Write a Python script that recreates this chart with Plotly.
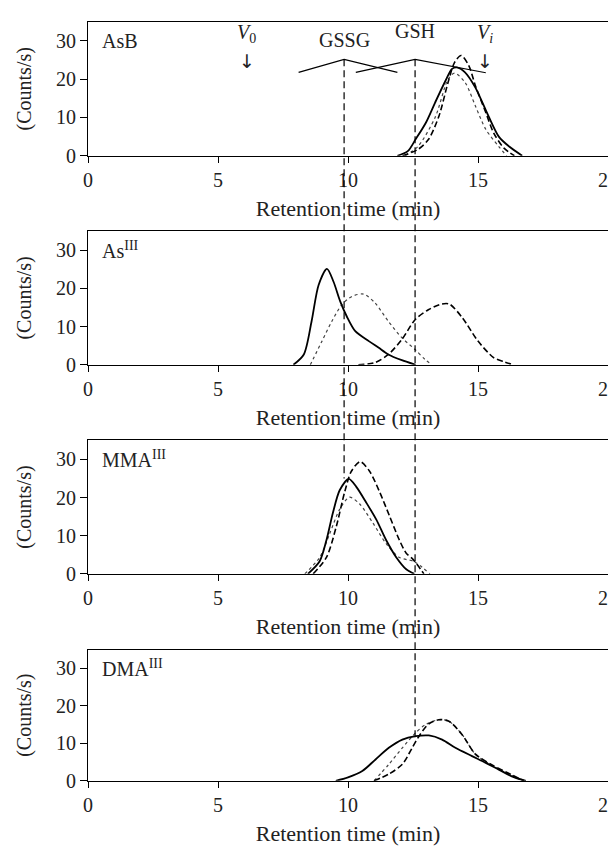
import plotly.graph_objects as go

W, H = 616, 847
FONT = "Liberation Serif"

# ---------------- data ----------------
panel_labels = ["AsB", "As<sup>III</sup>", "MMA<sup>III</sup>", "DMA<sup>III</sup>"]

asb_solid_x = [11.9, 12.3, 12.6, 13.0, 13.35, 13.75, 14.0, 14.18, 14.5, 14.9, 15.4, 15.8, 16.2, 16.7]
asb_solid_y = [0, 1.2, 4.3, 8.7, 13.9, 19.6, 22.7, 23.1, 21.8, 17.8, 10.4, 5.0, 2.4, 0]
asb_dashed_x = [12.1, 12.7, 13.1, 13.5, 13.85, 14.1, 14.35, 14.65, 14.9, 15.3, 15.6, 16.0, 16.4]
asb_dashed_y = [0, 1.7, 4.3, 10.4, 19.2, 24.4, 26.2, 23.5, 18.3, 11.3, 6.0, 2.0, 0]
asb_dotted_x = [12.2, 12.7, 13.35, 13.85, 14.1, 14.5, 14.9, 15.3, 15.8, 16.1]
asb_dotted_y = [0, 2.5, 10.0, 20.0, 21.6, 19.2, 13.0, 6.9, 2.4, 0]

as3_solid_x = [7.9, 8.3, 8.6, 8.87, 9.19, 9.44, 9.7, 9.95, 10.28, 10.8, 11.17, 11.55, 12.07, 12.6]
as3_solid_y = [0, 2.7, 11.4, 20.9, 25.1, 21.8, 16.6, 12.7, 8.8, 6.2, 4.5, 2.7, 1.2, 0]
as3_dashed_x = [10.4, 11.04, 11.55, 12.07, 12.58, 13.09, 13.6, 13.9, 14.4, 15.0, 15.6, 16.0, 16.36]
as3_dashed_y = [0, 0.6, 2.7, 6.6, 11.8, 14.4, 15.9, 15.9, 12.3, 6.2, 1.9, 0.8, 0]
as3_dotted_x = [8.55, 9.0, 9.38, 9.76, 10.15, 10.6, 11.04, 11.55, 12.07, 12.58, 12.96, 13.22]
as3_dotted_y = [0, 6.2, 11.4, 15.7, 17.9, 18.5, 16.2, 11.4, 7.1, 4.0, 1.4, 0]

mma_solid_x = [8.46, 8.91, 9.17, 9.42, 9.68, 10.03, 10.32, 10.7, 11.09, 11.47, 11.86, 12.24, 12.55]
mma_solid_y = [0, 3.3, 8.8, 16.0, 21.9, 24.9, 22.8, 18.7, 14.2, 8.8, 4.3, 1.2, 0]
mma_dashed_x = [8.66, 9.17, 9.55, 9.87, 10.13, 10.47, 10.83, 11.22, 11.6, 11.98, 12.24, 12.5, 12.92]
mma_dashed_y = [0, 4.3, 12.4, 21.4, 26.9, 29.4, 26.9, 21.4, 15.1, 8.8, 5.4, 3.8, 0]
mma_dotted_x = [8.34, 8.91, 9.3, 9.68, 10.06, 10.45, 10.96, 11.47, 11.98, 12.55, 13.15]
mma_dotted_y = [0, 4.3, 10.6, 16.9, 20.1, 18.3, 13.3, 7.9, 4.3, 3.2, 0]

dma_solid_x = [9.53, 10.0, 10.55, 11.06, 11.57, 12.09, 12.6, 13.11, 13.62, 14.13, 14.77, 15.3, 15.8, 16.3, 16.84]
dma_solid_y = [0, 0.9, 2.6, 5.7, 8.8, 11.0, 11.9, 12.1, 11.0, 8.8, 6.6, 4.8, 3.0, 1.2, 0]
dma_dashed_x = [11.0, 11.57, 12.09, 12.47, 12.73, 13.11, 13.49, 13.88, 14.39, 14.9, 15.56, 16.3, 16.76]
dma_dashed_y = [0, 1.8, 4.4, 8.8, 11.9, 15.2, 16.3, 15.9, 12.3, 7.1, 4.2, 1.6, 0]
dma_dotted_x = [11.0, 11.57, 12.09, 12.6, 12.98, 13.49, 13.88, 14.39, 14.9, 15.56, 16.3, 16.7]
dma_dotted_y = [0, 4.4, 8.8, 12.8, 15.0, 16.3, 15.9, 12.3, 7.1, 4.0, 1.4, 0]

# marker positions (retention times, min)
gssg_time = 9.85
gsh_time = 12.58
v0_time = 6.1
vi_time = 15.27
gssg_bracket_x = [8.1, 9.85, 11.9]
gssg_bracket_y = [21.8, 25.2, 21.8]
gsh_bracket_x = [10.3, 12.58, 15.3]
gsh_bracket_y = [21.8, 25.2, 21.7]
gssg_line_end = 25.0   # counts level in MMA panel where GSSG line stops
gsh_line_end = 11.0    # counts level in DMA panel where GSH line stops

x_ticks = [0, 5, 10, 15, 20]
y_ticks = [0, 10, 20, 30]
y_max = 35

panels = [
    (asb_solid_x, asb_solid_y, asb_dashed_x, asb_dashed_y, asb_dotted_x, asb_dotted_y),
    (as3_solid_x, as3_solid_y, as3_dashed_x, as3_dashed_y, as3_dotted_x, as3_dotted_y),
    (mma_solid_x, mma_solid_y, mma_dashed_x, mma_dashed_y, mma_dotted_x, mma_dotted_y),
    (dma_solid_x, dma_solid_y, dma_dashed_x, dma_dashed_y, dma_dotted_x, dma_dotted_y),
]

# ---------------- layout geometry (pixels) ----------------
tops_px = [14, 226, 438, 650]
bottoms_px = [149.7, 361.5, 573.3, 783]
domains = [[1 - b / H, 1 - t / H] for t, b in zip(tops_px, bottoms_px)]

def to_paper(panel, v):
    d0, d1 = domains[panel]
    return d0 + v / y_max * (d1 - d0)

fig = go.Figure()

for i, (sx, sy, dx, dy, ox, oy) in enumerate(panels):
    xa = "x" if i == 0 else f"x{i+1}"
    ya = "y" if i == 0 else f"y{i+1}"
    fig.add_trace(go.Scatter(x=ox, y=oy, mode="lines", xaxis=xa, yaxis=ya,
                             line=dict(color="#444444", width=1.2, dash="dot", shape="spline", smoothing=0.8),
                             showlegend=False, hoverinfo="skip"))
    fig.add_trace(go.Scatter(x=dx, y=dy, mode="lines", xaxis=xa, yaxis=ya,
                             line=dict(color="black", width=1.6, dash="6px,3px", shape="spline", smoothing=0.8),
                             showlegend=False, hoverinfo="skip"))
    fig.add_trace(go.Scatter(x=sx, y=sy, mode="lines", xaxis=xa, yaxis=ya,
                             line=dict(color="black", width=1.8, shape="spline", smoothing=0.8),
                             showlegend=False, hoverinfo="skip"))

# brackets in top panel
for bx, by in [(gssg_bracket_x, gssg_bracket_y), (gsh_bracket_x, gsh_bracket_y)]:
    fig.add_trace(go.Scatter(x=bx, y=by, mode="lines", xaxis="x", yaxis="y",
                             line=dict(color="black", width=1.2),
                             showlegend=False, hoverinfo="skip"))

TXT = "#222222"
tick_font = dict(family=FONT, size=20, color=TXT)
xtitle_font = dict(family=FONT, size=22, color=TXT)
ytitle_font = dict(family=FONT, size=20, color=TXT)
layout = dict(
    width=W, height=H,
    margin=dict(l=80, r=16, t=0, b=0),
    paper_bgcolor="white", plot_bgcolor="white",
    font=dict(family=FONT, size=20, color=TXT),
    showlegend=False,
)
for i in range(4):
    xk = "xaxis" if i == 0 else f"xaxis{i+1}"
    yk = "yaxis" if i == 0 else f"yaxis{i+1}"
    ya = "y" if i == 0 else f"y{i+1}"
    xa = "x" if i == 0 else f"x{i+1}"
    layout[xk] = dict(
        domain=[0, 1], anchor=ya, range=[0, 20], tickvals=x_ticks,
        ticks="outside", ticklen=6, tickwidth=1, tickcolor="black",
        showline=True, linecolor="black", linewidth=1.2, mirror=True,
        showgrid=False, zeroline=False, tickfont=tick_font,
        title=dict(text="Retention time (min)", font=xtitle_font, standoff=10),
    )
    layout[yk] = dict(
        domain=domains[i], anchor=xa, range=[0, y_max], tickvals=y_ticks,
        ticks="outside", ticklen=7, tickwidth=1, tickcolor="black",
        showline=True, linecolor="black", linewidth=1.2, mirror=True,
        showgrid=False, zeroline=False, tickfont=tick_font,
        title=dict(text="(Counts/s)", font=ytitle_font, standoff=18),
    )
fig.update_layout(**layout)

# panel labels
for i, lab in enumerate(panel_labels):
    xa = "x" if i == 0 else f"x{i+1}"
    ya = "y" if i == 0 else f"y{i+1}"
    fig.add_annotation(x=0.45, y=30, xref=xa, yref=ya, text=lab, showarrow=False,
                       xanchor="left", yanchor="middle", font=dict(family=FONT, size=20, color=TXT))

# top panel annotations
fig.add_annotation(x=v0_time, y=32.0, xref="x", yref="y", text="<i>V</i><sub>0</sub>", showarrow=False,
                   font=dict(family=FONT, size=20, color=TXT))
fig.add_annotation(x=v0_time, y=24.8, xref="x", yref="y", text="↓", showarrow=False,
                   font=dict(family="DejaVu Sans", size=19, color=TXT))
fig.add_annotation(x=vi_time, y=32.0, xref="x", yref="y", text="<i>V<sub>i</sub></i>", showarrow=False,
                   font=dict(family=FONT, size=20, color=TXT))
fig.add_annotation(x=vi_time, y=24.8, xref="x", yref="y", text="↓", showarrow=False,
                   font=dict(family="DejaVu Sans", size=19, color=TXT))
fig.add_annotation(x=gssg_time, y=30.2, xref="x", yref="y", text="GSSG", showarrow=False,
                   font=dict(family=FONT, size=20, color=TXT))
fig.add_annotation(x=gsh_time, y=32.6, xref="x", yref="y", text="GSH", showarrow=False,
                   font=dict(family=FONT, size=20, color=TXT))

# long dashed reference lines across panels
fig.add_shape(type="line", xref="x", yref="paper", x0=gssg_time, x1=gssg_time,
              y0=to_paper(0, gssg_bracket_y[1]), y1=to_paper(2, gssg_line_end),
              line=dict(color="black", width=1.2, dash="7px,4px"))
fig.add_shape(type="line", xref="x", yref="paper", x0=gsh_time, x1=gsh_time,
              y0=to_paper(0, gsh_bracket_y[1]), y1=to_paper(3, gsh_line_end),
              line=dict(color="black", width=1.2, dash="7px,4px"))

fig.write_html("out.html")
